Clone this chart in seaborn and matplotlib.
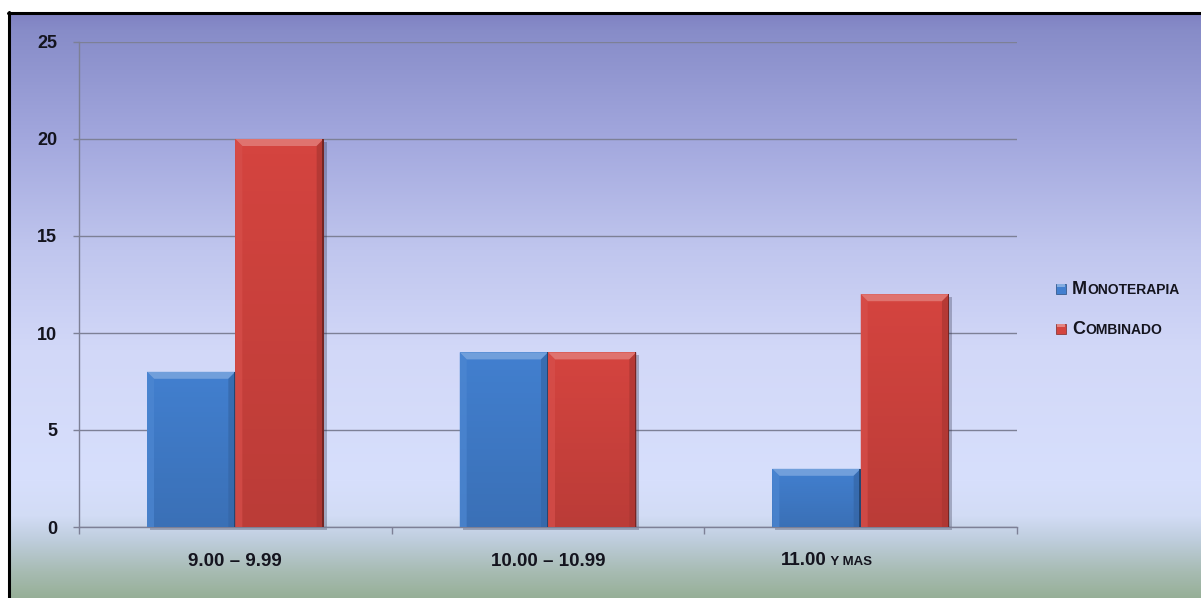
import numpy as np
import pandas as pd
import matplotlib
matplotlib.use("Agg")
import matplotlib.pyplot as plt
import seaborn as sns
from matplotlib import font_manager
from matplotlib.patches import Polygon, Rectangle
from matplotlib.lines import Line2D
from matplotlib.colors import to_rgb
from matplotlib.offsetbox import TextArea, HPacker, DrawingArea, AnnotationBbox

# ---- data -------------------------------------------------------------
categories = ["9.00 – 9.99", "10.00 – 10.99", "11.00 y mas"]
series = ["Monoterapia", "Combinado"]
monoterapia = [8, 9, 3]
combinado = [20, 9, 12]
y_ticks = [0, 5, 10, 15, 20, 25]

df = pd.DataFrame({
    "rango": categories * 2,
    "grupo": [series[0]] * len(categories) + [series[1]] * len(categories),
    "pacientes": monoterapia + combinado,
})

BLUE = "#427fcf"
RED = "#d4443f"
TEXT = "#14141e"
GRID = "#7d8096"

installed = {f.name for f in font_manager.fontManager.ttflist}
FONT = dict(family="Liberation Sans") if "Liberation Sans" in installed else dict(family="DejaVu Sans")

W, H = 1201, 598
sns.set_theme(style="white")
fig = plt.figure(figsize=(W / 100, H / 100), dpi=100, facecolor="white")

# ---- slide background gradient ---------------------------------------
stops_px = [14, 30, 140, 250, 350, 480, 515, 540, 570, 598]
stops_rgb = [(128, 130, 195), (135, 140, 200), (163, 168, 222), (192, 198, 238),
             (210, 216, 248), (215, 223, 252), (210, 220, 245), (190, 205, 220),
             (168, 188, 180), (150, 175, 150)]
rows = np.arange(14, H)
grad = np.stack([np.interp(rows, stops_px, [c[i] for c in stops_rgb]) for i in range(3)], axis=-1) / 255
bg = fig.add_axes([10 / W, 0, 1 - 10 / W, (H - 14) / H], zorder=-5)
bg.imshow(grad[:, None, :], aspect="auto", extent=(0, 1, 0, 1))
bg.set_axis_off()

# black frame on the top and left sides
fig.add_artist(Line2D([9 / W, 9 / W], [0, 1 - 12 / H], color="black", lw=2.2, transform=fig.transFigure))
fig.add_artist(Line2D([8 / W, 1], [1 - 13 / H, 1 - 13 / H], color="black", lw=2.2, transform=fig.transFigure))

# ---- bars -------------------------------------------------------------
ax_l, ax_r, ax_t, ax_b = 79, 1017, 42, 527
ax = fig.add_axes([ax_l / W, (H - ax_b) / H, (ax_r - ax_l) / W, (ax_b - ax_t) / H])
ax.set_facecolor("none")
sns.barplot(data=df, x="rango", y="pacientes", hue="grupo", hue_order=series,
            palette=[BLUE, RED], width=0.565, saturation=1, legend=False,
            ax=ax, zorder=3, linewidth=0, edgecolor="none")
XLIM = (-0.5, len(categories) - 0.5)
YLIM = (0, 25)

sx = (ax_r - ax_l) / len(categories)   # pixels per x unit
sy = (ax_b - ax_t) / (YLIM[1] - YLIM[0])  # pixels per y unit


def shade(c, f):
    c = np.array(to_rgb(c))
    return tuple(np.clip(c + (1 - c) * f, 0, 1)) if f > 0 else tuple(np.clip(c * (1 + f), 0, 1))


for bar in list(ax.patches):
    x0, w, h = bar.get_x(), bar.get_width(), bar.get_height()
    x1, y1 = x0 + w, h
    fc = bar.get_facecolor()[:3]
    bx, by = 7 / sx, 7 / sy
    # drop shadow
    ax.add_patch(Rectangle((x0 + 3 / sx, -3 / sy), w, h, color="#303048", alpha=0.3,
                           zorder=2.5, lw=0, clip_on=False))
    # gentle darkening toward the base
    shadeimg = np.zeros((64, 1, 4))
    shadeimg[..., 3] = np.linspace(0.0, 0.12, 64)[:, None]
    im = ax.imshow(shadeimg, extent=(x0, x1, 0, y1), origin="upper", aspect="auto",
                   zorder=3.1, interpolation="bilinear")
    im.set_clip_path(bar)
    # bevel facets
    ax.add_patch(Polygon([(x0, y1), (x1, y1), (x1 - bx, y1 - by), (x0 + bx, y1 - by)],
                         closed=True, color=shade(fc, 0.25), lw=0, zorder=3.2))
    ax.add_patch(Polygon([(x0, 0), (x0, y1), (x0 + bx, y1 - by), (x0 + bx, 0)],
                         closed=True, color=shade(fc, 0.06), lw=0, zorder=3.2, alpha=0.7))
    ax.add_patch(Polygon([(x1, 0), (x1, y1), (x1 - bx, y1 - by), (x1 - bx, 0)],
                         closed=True, color=shade(fc, -0.2), lw=0, zorder=3.2, alpha=0.7))
    ax.add_patch(Rectangle((x1 - 1.2 / sx, 0), 1.2 / sx, h, color=shade(fc, -0.45), lw=0, zorder=3.3))

ax.set_xlim(*XLIM)
ax.set_ylim(*YLIM)

# ---- axes styling -----------------------------------------------------
ax.set_axisbelow(True)
ax.set_yticks(y_ticks)
ax.set_yticklabels([str(t) for t in y_ticks], fontsize=13, fontweight="bold", color=TEXT, **FONT)
ax.yaxis.grid(True, color=GRID, lw=1)
ax.xaxis.grid(False)
for side in ("top", "right"):
    ax.spines[side].set_visible(False)
for side in ("left", "bottom"):
    ax.spines[side].set_color(GRID)
    ax.spines[side].set_linewidth(1)
ax.tick_params(axis="y", direction="out", length=4.3, width=1, color=GRID, pad=11.5, left=True)
ax.set_ylabel("")
ax.set_xlabel("")

bounds = np.arange(len(categories) + 1) - 0.5
ax.set_xticks(bounds)
ax.set_xticklabels([""] * len(bounds))
ax.tick_params(axis="x", which="major", direction="out", length=5, width=1, color=GRID, bottom=True)
ax.set_xticks(range(len(categories)), minor=True)
ax.set_xticklabels(["" if any(ch.islower() for ch in c) else c for c in categories],
                   minor=True, fontsize=13.5, fontweight="bold", color=TEXT, **FONT)
ax.tick_params(axis="x", which="minor", length=0, pad=19)


def small_caps(text, big, small):
    """Pack text so that lowercase letters render as small capitals."""
    runs = []
    for i, ch in enumerate(text):
        nxt = text[i + 1] if i + 1 < len(text) else ""
        is_small = ch.islower() or (ch == " " and nxt.islower())
        if runs and runs[-1][1] == is_small:
            runs[-1][0] += ch
        else:
            runs.append([ch, is_small])
    boxes = [TextArea(s.upper(), textprops=dict(fontsize=small if sm else big, fontweight="bold",
                                               color=TEXT, **FONT))
             for s, sm in runs]
    return HPacker(children=boxes, align="baseline", pad=0, sep=0)


# category label containing lowercase words, drawn in small capitals
for i, c in enumerate(categories):
    if any(ch.islower() for ch in c):
        box = small_caps(c, 13.5, 9.5)
        ab = AnnotationBbox(box, (i, 0), xycoords=ax.get_xaxis_transform(),
                            xybox=(-24.5, -18.2), boxcoords="offset points",
                            box_alignment=(0.5, 1), frameon=False, pad=0, annotation_clip=False)
        ax.add_artist(ab)

# ---- legend -----------------------------------------------------------
for k, (name, col) in enumerate(zip(series, [BLUE, RED])):
    da = DrawingArea(7.5, 7.5, 0, 0)
    da.add_artist(Rectangle((0, 0), 7.5, 7.5, fc=col, ec=shade(col, -0.4), lw=0.5))
    da.add_artist(Rectangle((0.7, 5.2), 6.1, 1.8, fc=shade(col, 0.35), lw=0))
    row = HPacker(children=[da, small_caps(name, 13, 10)], align="center", pad=0, sep=4)
    ab = AnnotationBbox(row, (1056, H - 289 - 40 * k), xycoords="figure pixels",
                        box_alignment=(0, 0.5), frameon=False, pad=0, annotation_clip=False)
    fig.add_artist(ab)

fig.savefig("out.png", dpi=100, facecolor=fig.get_facecolor())
